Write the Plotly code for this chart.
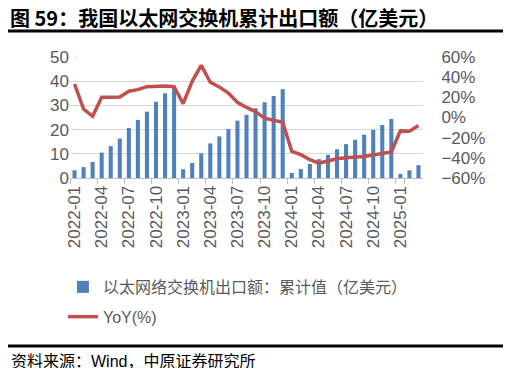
import plotly.graph_objects as go

months = [f"{y}-{m:02d}" for y in (2022, 2023, 2024) for m in range(1, 13)] + ["2025-01", "2025-02", "2025-03"]

export_cum = [3.2, 4.5, 6.6, 10.5, 13.2, 16.3, 20.7, 24.0, 27.4, 31.5, 35.0, 37.3,
              3.6, 6.2, 10.2, 14.3, 17.2, 20.2, 23.7, 26.1, 28.8, 31.3, 33.9, 36.7,
              2.1, 3.7, 5.8, 7.8, 9.6, 11.9, 14.0, 15.8, 17.9, 19.9, 21.9, 24.4,
              1.7, 3.2, 5.3]

yoy = [33.2, 8.4, 1.2, 20.0, 20.0, 20.3, 26.0, 27.6, 30.6, 31.2, 31.2, 30.6,
       13.7, 35.9, 51.7, 34.9, 30.2, 24.3, 15.0, 10.0, 5.8, -0.7, -2.7, -4.7,
       -33.6, -36.9, -41.9, -45.2, -43.2, -40.9, -39.9, -39.6, -38.6, -37.2, -35.9, -34.2,
       -13.3, -13.6, -8.0]

tick_labels = months[::3]

FONT = "Liberation Sans, Arial, Noto Sans CJK SC"
GRAY = "#595959"

# The page body keeps its default 8px margin, so the figure is sized to fit
# inside the window (511-16 x 378-18) without scrollbars.
FIG_W, FIG_H = 495, 360
PLOT_L, PLOT_T, PLOT_W, PLOT_H = 62, 49, 353, 121


def px(x_page):
    return (x_page - 8 - PLOT_L) / PLOT_W


def py(y_page):
    return (PLOT_T + PLOT_H - (y_page - 8)) / PLOT_H


fig = go.Figure()
fig.add_trace(go.Bar(
    x=months, y=export_cum, name="以太网络交换机出口额：累计值（亿美元）",
    marker=dict(color="#4F81BD", line=dict(width=0)), width=0.45,
    legendgroup="a", yaxis="y"))
fig.add_trace(go.Scatter(
    x=months, y=yoy, name="YoY(%)", mode="lines",
    line=dict(color="#C0504D", width=3.5),
    legendgroup="b", yaxis="y2"))

fig.update_layout(
    width=FIG_W, height=FIG_H, autosize=False,
    margin=dict(l=PLOT_L, r=FIG_W - PLOT_L - PLOT_W, t=PLOT_T,
                b=FIG_H - PLOT_T - PLOT_H, autoexpand=False),
    paper_bgcolor="white", plot_bgcolor="white",
    font=dict(family=FONT, size=16, color=GRAY),
    xaxis=dict(type="category", categoryorder="array", categoryarray=months,
               tickmode="array", tickvals=tick_labels, ticktext=tick_labels,
               tickson="boundaries", ticks="outside", ticklen=5, tickcolor="#bfbfbf",
               showline=True, linecolor="#bfbfbf", showgrid=False,
               tickangle=-90, tickfont=dict(size=17, color=GRAY),
               range=[-0.5, len(months) - 0.5], automargin=False),
    yaxis=dict(range=[0, 50], dtick=10, showgrid=True, gridcolor="#d9d9d9",
               zeroline=False, tickfont=dict(size=17, color=GRAY), ticks="",
               automargin=False),
    yaxis2=dict(range=[-60, 60], dtick=20, overlaying="y", side="right",
                showgrid=False, zeroline=False, ticksuffix="%",
                tickfont=dict(size=17, color=GRAY), automargin=False,
                ticks="outside", ticklen=14, tickcolor="rgba(0,0,0,0)"),
    legend=dict(x=-0.02, y=-0.76, xanchor="left", yanchor="top",
                orientation="v", traceorder="grouped", tracegroupgap=6,
                font=dict(size=16, color=GRAY), bgcolor="rgba(0,0,0,0)"),
    showlegend=True,
)

fig.add_annotation(text="<b>图 59：我国以太网交换机累计出口额（亿美元）</b>",
                   xref="paper", yref="paper", x=px(8), y=py(17),
                   xanchor="left", yanchor="middle", showarrow=False,
                   font=dict(family="Noto Sans CJK SC", size=20, color="black"))
fig.add_annotation(text="资料来源：Wind，中原证券研究所",
                   xref="paper", yref="paper", x=px(9), y=py(361),
                   xanchor="left", yanchor="middle", showarrow=False,
                   font=dict(family="Liberation Sans, Noto Sans CJK SC", size=16, color="black"))

# horizontal rules above and below the chart body
for rule_y in (31, 346):
    fig.add_shape(type="line", xref="paper", yref="paper", layer="above",
                  x0=px(8), x1=px(505), y0=py(rule_y), y1=py(rule_y),
                  line=dict(color="black", width=3))

fig.write_html("out.html", config={"displayModeBar": False})
